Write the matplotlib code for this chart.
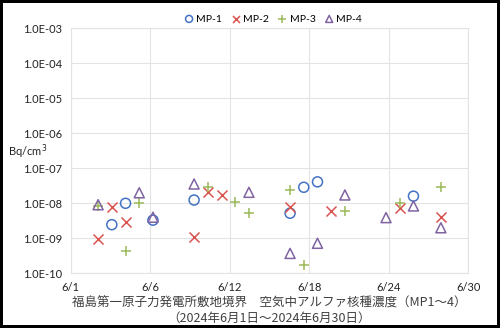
import numpy as np
import matplotlib.pyplot as plt
from matplotlib.ticker import FixedLocator, NullLocator

#Data: days counted from 6/1 (0 = 6/1), values in Bq/cm3
mp1_day = [3, 4, 6, 9, 16, 17, 18, 25]
mp1_val = [2.45e-9, 1.0e-8, 3.3e-9, 1.24e-8, 5.2e-9, 2.87e-8, 4.1e-8, 1.6e-8]

mp2_day = [2, 3, 4, 9, 10, 11, 16, 19, 24, 27]
mp2_val = [9.5e-10, 8.0e-9, 3.0e-9, 1.1e-9, 2.15e-8, 1.73e-8, 8.0e-9, 6.15e-9, 7.2e-9, 4.1e-9]

mp3_day = [2, 4, 5, 10, 12, 13, 16, 17, 20, 24, 27]
mp3_val = [8.4e-9, 4.3e-10, 1.04e-8, 2.86e-8, 1.07e-8, 5.4e-9, 2.4e-8, 1.72e-10, 6.0e-9, 1.0e-8, 2.87e-8]

mp4_day = [2, 5, 6, 9, 13, 16, 18, 20, 23, 25, 27]
mp4_val = [9.1e-9, 2.0e-8, 4.0e-9, 3.56e-8, 2.06e-8, 3.7e-10, 7.2e-10, 1.73e-8, 3.9e-9, 8.4e-9, 2.0e-9]

x_ticks = [0, 5.8, 11.6, 17.4, 23.2, 29]
x_labels = ['6/1', '6/6', '6/12', '6/18', '6/24', '6/30']
y_ticks = [1e-10, 1e-9, 1e-8, 1e-7, 1e-6, 1e-5, 1e-4, 1e-3]
y_labels = ['1.0E-10', '1.0E-09', '1.0E-08', '1.0E-07', '1.0E-06', '1.0E-05', '1.0E-04', '1.0E-03']

plt.rcParams['font.family'] = ['Lato', 'Noto Sans CJK JP', 'DejaVu Sans']

fig = plt.figure(figsize=(5, 3.28), dpi=100, edgecolor='black', linewidth=4)
ax = fig.add_axes([70.7 / 500, 1 - 273.3 / 328, (468.3 - 70.7) / 500, (273.3 - 28.3) / 328])

#Markers
ms = 52
ax.scatter(mp1_day, mp1_val, s=ms, marker='o', facecolors='none', edgecolors='#4472C4', linewidths=1.1, label='MP-1', clip_on=False)
ax.scatter(mp2_day, mp2_val, s=ms, marker='x', color='#D9534F', linewidths=1.1, label='MP-2', clip_on=False)
ax.scatter(mp3_day, mp3_val, s=ms, marker='+', color='#9BBB59', linewidths=1.1, label='MP-3', clip_on=False)
ax.scatter(mp4_day, mp4_val, s=ms, marker='^', facecolors='none', edgecolors='#8064A2', linewidths=1.1, label='MP-4', clip_on=False)

#Axes
ax.set_yscale('log')
ax.set_ylim(1e-10, 1e-3)
ax.set_xlim(0, 29)
ax.yaxis.set_major_locator(FixedLocator(y_ticks))
ax.yaxis.set_minor_locator(NullLocator())
ax.set_yticklabels(y_labels)
ax.set_xticks(x_ticks)
ax.set_xticklabels(x_labels)
ax.tick_params(length=0, labelsize=8, colors='#222222', pad=6)
ax.grid(True, color='#e3e3e3', linewidth=0.8)
ax.set_axisbelow(True)
for s in ax.spines.values():
    s.set_color('#e3e3e3')
    s.set_linewidth(0.8)

fig.text(8 / 500, 1 - 152 / 328, 'Bq/cm$^3$', fontsize=8, color='#222222', va='center', ha='left')

ax.set_xlabel('福島第一原子力発電所敷地境界　空気中アルファ核種濃度（MP1～4）\n（2024年6月1日～2024年6月30日）',
              fontsize=9, family=['Noto Sans CJK JP', 'DejaVu Sans'], color='#404040', labelpad=3, linespacing=1.2)

ax.legend(loc='center', bbox_to_anchor=(272 / 500, 1 - 19 / 328), bbox_transform=fig.transFigure,
          ncol=4, frameon=False, fontsize=7.5, handletextpad=0.0, columnspacing=0.6, markerscale=0.7,
          handlelength=1.4, borderpad=0)

fig.savefig('out.png', dpi=100, edgecolor=fig.get_edgecolor())
